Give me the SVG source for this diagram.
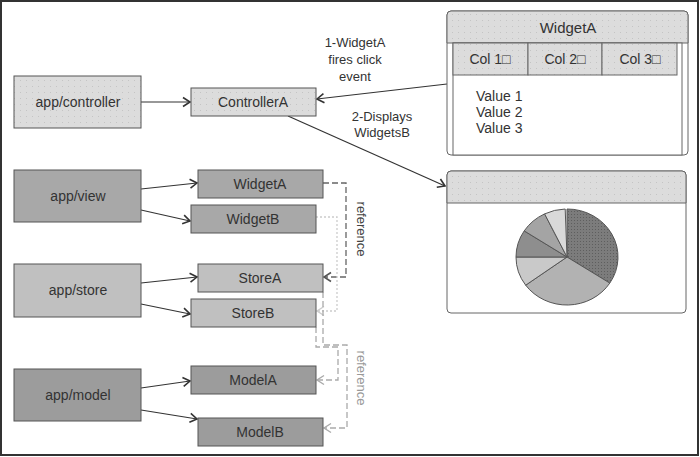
<svg xmlns="http://www.w3.org/2000/svg" width="700" height="457" viewBox="0 0 700 457">
<defs>
<pattern id="dots" width="6" height="6" patternUnits="userSpaceOnUse">
<rect width="6" height="6" fill="#dcdcdc"/>
<rect x="2" y="2" width="1" height="1" fill="#c4c4c4"/>
</pattern>
<pattern id="darkdots" width="3" height="3" patternUnits="userSpaceOnUse">
<rect width="3" height="3" fill="#7c7c7c"/>
<rect x="1" y="1" width="1" height="1" fill="#5e5e5e"/>
</pattern>
<marker id="arr" markerWidth="12" markerHeight="12" refX="9" refY="6" orient="auto" markerUnits="userSpaceOnUse">
<path d="M2,1.5 L9,6 L2,10.5" fill="none" stroke="#333" stroke-width="1.6"/>
</marker>
<marker id="arrD" markerWidth="12" markerHeight="12" refX="9" refY="6" orient="auto" markerUnits="userSpaceOnUse">
<path d="M2,1.5 L9,6 L2,10.5" fill="none" stroke="#555" stroke-width="1.6"/>
</marker>
<marker id="arrL" markerWidth="12" markerHeight="12" refX="9" refY="6" orient="auto" markerUnits="userSpaceOnUse">
<path d="M2,1.5 L9,6 L2,10.5" fill="none" stroke="#aaa" stroke-width="1.4"/>
</marker>
<marker id="arrVL" markerWidth="12" markerHeight="12" refX="9" refY="6" orient="auto" markerUnits="userSpaceOnUse">
<path d="M2,1.5 L9,6 L2,10.5" fill="none" stroke="#ccc" stroke-width="1.4"/>
</marker>
</defs>
<style>
text{font-family:"Liberation Sans","DejaVu Sans",Arial,sans-serif;fill:#333}
.lbl{font-size:14px;text-anchor:middle;dominant-baseline:central}
.note{font-size:13px;text-anchor:middle}
.box{stroke:#555;stroke-width:1}
.light{fill:url(#dots)}
.view{fill:#a8a8a8}
.store{fill:#c0c0c0}
.model{fill:#9c9c9c}
.conn{fill:none;stroke:#333;stroke-width:1.2}
.dashD{fill:none;stroke:#666;stroke-width:1.3;stroke-dasharray:6,3}
.dashL{fill:none;stroke:#aaa;stroke-width:1.3;stroke-dasharray:6,3}
.dotL{fill:none;stroke:#ccc;stroke-width:1.3;stroke-dasharray:2,2}
.win{fill:#fff;stroke:#666;stroke-width:1}
.slice{stroke:#fff;stroke-width:1.5}
</style>
<rect x="1" y="1" width="697" height="454" fill="#fff" stroke="#333" stroke-width="2"/>

<g id="connectors">
<line class="conn" x1="141" y1="102" x2="190" y2="102" marker-end="url(#arr)"/>
<line class="conn" x1="447" y1="84" x2="317" y2="99" marker-end="url(#arr)"/>
<line class="conn" x1="288" y1="116" x2="445" y2="186" marker-end="url(#arr)"/>
<line class="conn" x1="141" y1="189" x2="197" y2="183" marker-end="url(#arr)"/>
<line class="conn" x1="141" y1="210" x2="190" y2="221" marker-end="url(#arr)"/>
<line class="conn" x1="141" y1="283" x2="197" y2="277" marker-end="url(#arr)"/>
<line class="conn" x1="141" y1="304" x2="190" y2="314" marker-end="url(#arr)"/>
<line class="conn" x1="141" y1="388" x2="190" y2="381" marker-end="url(#arr)"/>
<line class="conn" x1="141" y1="410" x2="197" y2="419" marker-end="url(#arr)"/>
<path class="dashD" d="M323,183 H346 V277 H324" marker-end="url(#arrD)"/>
<path class="dotL" d="M316,217 H337 V311 H317" marker-end="url(#arrVL)"/>
<path class="dashL" d="M316,327 V347 H338 V380 H317" marker-end="url(#arrL)"/>
<path class="dashL" d="M323,292 V345 H347 V428 H324" marker-end="url(#arrL)"/>
<text class="note" transform="translate(357,229) rotate(90)" style="fill:#444">reference</text>
<text class="note" transform="translate(357,378) rotate(90)" style="fill:#999">reference</text>
<text class="note" x="355" y="47">1-WidgetA</text>
<text class="note" x="355" y="64">fires click</text>
<text class="note" x="355" y="81">event</text>
<text class="note" x="382" y="121">2-Displays</text>
<text class="note" x="382" y="137">WidgetsB</text>
</g>

<g id="app-controller"><rect class="box light" x="14" y="76" width="127" height="52"/><text class="lbl" x="78" y="102">app/controller</text></g>
<g id="controllerA"><rect class="box light" x="191" y="88" width="125" height="28"/><text class="lbl" x="253" y="102">ControllerA</text></g>

<g id="app-view"><rect class="box view" x="14" y="170" width="127" height="52"/><text class="lbl" x="78" y="196">app/view</text></g>
<g id="widgetA"><rect class="box view" x="198" y="170" width="125" height="28"/><text class="lbl" x="260" y="184">WidgetA</text></g>
<g id="widgetB"><rect class="box view" x="191" y="205" width="125" height="28"/><text class="lbl" x="253" y="219">WidgetB</text></g>

<g id="app-store"><rect class="box store" x="14" y="264" width="127" height="53"/><text class="lbl" x="78" y="290">app/store</text></g>
<g id="storeA"><rect class="box store" x="198" y="264" width="125" height="28"/><text class="lbl" x="260" y="278">StoreA</text></g>
<g id="storeB"><rect class="box store" x="191" y="299" width="125" height="28"/><text class="lbl" x="253" y="313">StoreB</text></g>

<g id="app-model"><rect class="box model" x="14" y="369" width="127" height="52"/><text class="lbl" x="78" y="395">app/model</text></g>
<g id="modelA"><rect class="box model" x="191" y="366" width="125" height="28"/><text class="lbl" x="253" y="380">ModelA</text></g>
<g id="modelB"><rect class="box model" x="198" y="418" width="125" height="28"/><text class="lbl" x="260" y="432">ModelB</text></g>

<g id="widgetA-window">
<rect class="win" x="447" y="11" width="241" height="144" rx="4"/>
<path d="M447,43 V15 Q447,11 451,11 H684 Q688,11 688,15 V43 Z" fill="url(#dots)" stroke="#666" stroke-width="1"/>
<text class="lbl" x="568" y="27" style="font-size:15px">WidgetA</text>
<rect x="453" y="43" width="229" height="112" fill="#fff" stroke="#666" stroke-width="1"/>
<rect x="453" y="43" width="75" height="32" fill="url(#dots)" stroke="#666" stroke-width="1"/>
<rect x="528" y="43" width="74" height="32" fill="url(#dots)" stroke="#666" stroke-width="1"/>
<rect x="602" y="43" width="75" height="32" fill="url(#dots)" stroke="#666" stroke-width="1"/>
<text class="lbl" x="490" y="59">Col 1□</text>
<text class="lbl" x="565" y="59">Col 2□</text>
<text class="lbl" x="640" y="59">Col 3□</text>
<text x="476" y="101" style="font-size:14px">Value 1</text>
<text x="476" y="117" style="font-size:14px">Value 2</text>
<text x="476" y="133" style="font-size:14px">Value 3</text>
</g>

<g id="widgetB-window">
<rect class="win" x="447" y="171" width="239" height="142" rx="4"/>
<path d="M447,203 V175 Q447,171 451,171 H682 Q686,171 686,175 V203 Z" fill="url(#dots)" stroke="#666" stroke-width="1"/>
<g stroke-linejoin="round">
<path d="M567,257 L567,209 A51,48 0 0 1 609.8,283.1 Z" fill="url(#darkdots)" stroke="#555" stroke-width="1"/>
<path d="M567,257 L609.8,283.1 A51,48 0 0 1 525.7,285.2 Z" fill="#b2b2b2" stroke="#555" stroke-width="1"/>
<path d="M567,257 L525.7,285.2 A51,48 0 0 1 516,257 Z" fill="#c9c9c9" stroke="#555" stroke-width="1"/>
<path d="M567,257 L516,257 A51,48 0 0 1 524.2,230.9 Z" fill="#8e8e8e" stroke="#555" stroke-width="1"/>
<path d="M567,257 L524.2,230.9 A51,48 0 0 1 544.6,213.9 Z" fill="#a4a4a4" stroke="#555" stroke-width="1"/>
<path d="M567,257 L544.6,213.9 A51,48 0 0 1 565.2,209 Z" fill="#d9d9d9" stroke="#555" stroke-width="1"/>
</g>
</g>
</svg>
